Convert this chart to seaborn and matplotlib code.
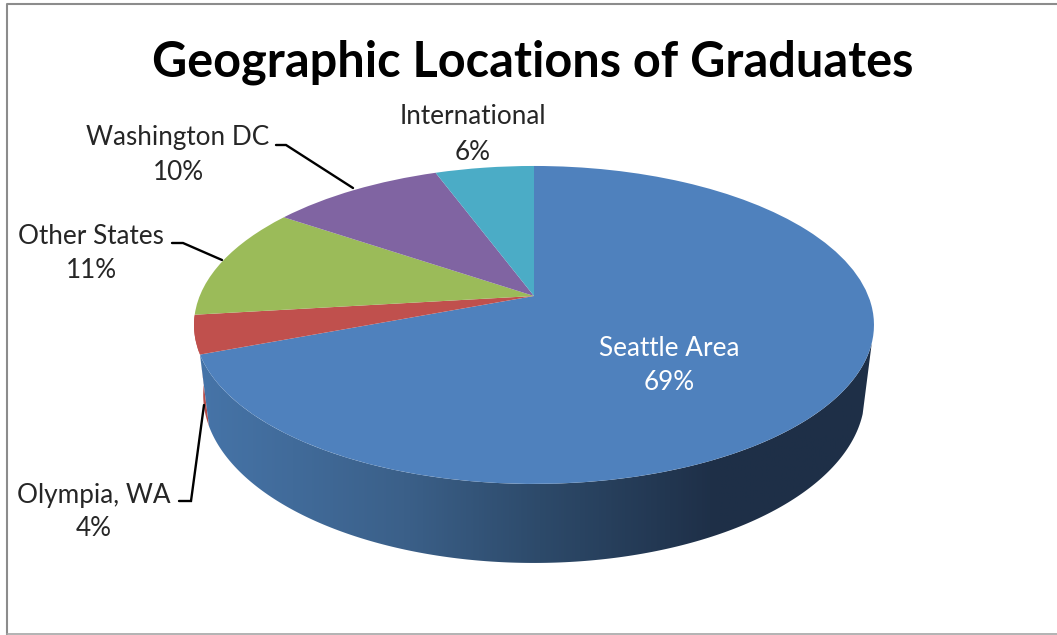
import numpy as np
import matplotlib
matplotlib.use("Agg")
import matplotlib.pyplot as plt
import seaborn as sns
from matplotlib.colors import LinearSegmentedColormap
from matplotlib.patches import Polygon
from matplotlib.transforms import Transform

# ---- data ----
categories = ["Seattle Area", "Olympia, WA", "Other States", "Washington DC", "International"]
shares = [69.2, 3.9, 11.45, 9.85, 5.6]
slice_colors = ["#4f81bd", "#c0504d", "#9bbb59", "#8064a2", "#4bacc6"]
title_text = "Geographic Locations of Graduates"

sns.set_theme(style="white")
plt.rcParams["font.family"] = ["Lato", "DejaVu Sans"]

W, H = 1057, 635
fig = plt.figure(figsize=(W / 100, H / 100), dpi=100, facecolor="white")
ax = fig.add_axes([0, 0, 1, 1])

# Perspective of the tilted disc: unit circle -> picture pixels
CX, APEX_Y, K, A, B = 534.0, 296.0, 0.182, 334.3, 153.7
ELLIPSE_Y, LOWER_Y, LOWER_SX, LOWER_SY = 325.0, 395.0, 0.973, 1.057


class DiscProjection(Transform):
    input_dims = output_dims = 2
    is_separable = False
    has_inverse = False

    def transform_non_affine(self, values):
        values = np.asarray(values, dtype=float)
        w = 1 + K * values[:, 1]
        return np.column_stack([CX + A * values[:, 0] / w, APEX_Y - B * values[:, 1] / w])


project = DiscProjection()


def rim(theta_deg, lower=False):
    t = np.radians(theta_deg)
    pts = project.transform_non_affine(np.column_stack([np.sin(t), np.cos(t)]))
    if lower:
        pts = np.column_stack([CX + LOWER_SX * (pts[:, 0] - CX),
                               LOWER_Y + LOWER_SY * (pts[:, 1] - ELLIPSE_Y)])
    return pts


wedges, _ = ax.pie(shares, colors=slice_colors, startangle=90, counterclock=False,
                   wedgeprops={"linewidth": 0})
for w in wedges:
    w.set_transform(project + ax.transData)
    w.set_zorder(3)
    w.set_clip_on(False)

ax.set_aspect("auto")
ax.set_xlim(0, W)
ax.set_ylim(H, 0)
ax.axis("off")

# Side walls, from the slice angles
ends = np.cumsum(shares) * 3.6
blue_end, red_end = ends[0], ends[1]
upper = rim(np.linspace(106.8, blue_end, 200))
lower = rim(np.linspace(blue_end, 106.8, 200), lower=True)
blue_wall = Polygon(np.vstack([upper, lower]), closed=True, transform=ax.transData,
                    facecolor="none", edgecolor="none")

upper_r = rim(np.linspace(blue_end, red_end, 40))
lower_r = rim(np.linspace(red_end, blue_end, 40), lower=True)
ax.add_patch(Polygon(np.vstack([upper_r, lower_r]), closed=True, facecolor="#b64b48",
                     edgecolor="none", zorder=1))

wall_cmap = LinearSegmentedColormap.from_list(
    "wall", [(0.0, "#4674a8"), (0.30, "#3b6089"), (0.50, "#2d4a6a"), (0.76, "#1e2f47"), (1.0, "#1e3048")])
grad = np.linspace(0, 1, 512)[None, :]
im = ax.imshow(grad, cmap=wall_cmap, extent=(200, 880, 575, 300), aspect="auto", zorder=2)
ax.add_patch(blue_wall)
im.set_clip_path(blue_wall)
ax.set_xlim(0, W)
ax.set_ylim(H, 0)

# Leader lines
for xs, ys in [([276, 286, 353], [145, 145, 188]),
               ([172, 183, 222], [243, 243, 260]),
               ([179, 191, 204], [501, 501, 405])]:
    ax.plot(xs, ys, color="black", lw=1.7, zorder=4, solid_joinstyle="miter")

# Labels
LABEL_SIZE = 18.8
positions = [(669, 348, 383), (94, 495, 529), (91, 236, 271), (178, 138, 173), (473, 117, 152)]
for name, share, (x, y1, y2), col in zip(categories, shares, positions,
                                         ["white", "#262626", "#262626", "#262626", "#262626"]):
    ax.text(x, y1, name, ha="center", va="center", fontsize=LABEL_SIZE, color=col, zorder=5)
    ax.text(x, y2, f"{round(share)}%", ha="center", va="center", fontsize=LABEL_SIZE, color=col, zorder=5)

ax.text(533, 62, title_text, ha="center", va="center", fontsize=35, fontweight="bold",
        color="black", zorder=5)

# Chart-area frame
ax.plot([6.5, 6.5, W], [H, 3.5, 3.5], color="#8c8c8c", lw=1.5, zorder=6, clip_on=False)
ax.plot([6.5, W], [633.5, 633.5], color="#a6a6a6", lw=1.2, zorder=6)

fig.savefig("out.png", dpi=100, facecolor="white")
